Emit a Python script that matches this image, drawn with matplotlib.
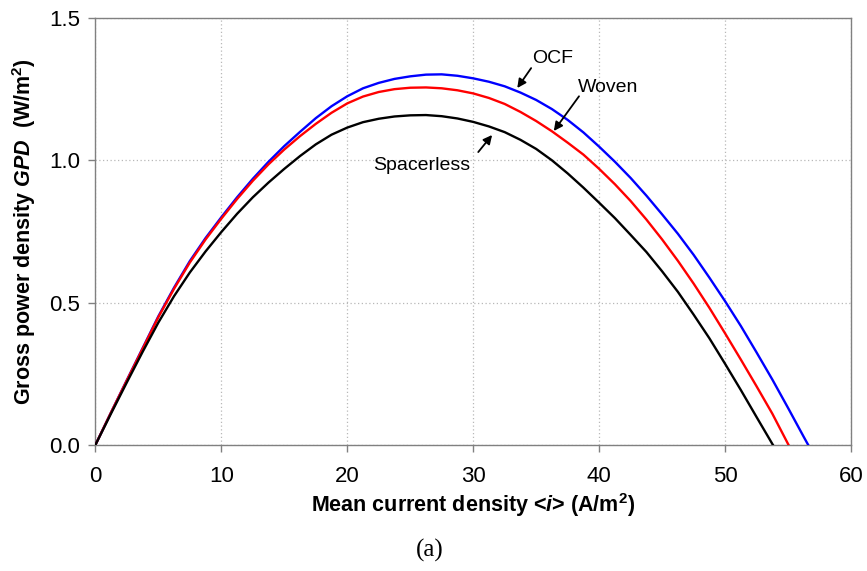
import matplotlib
matplotlib.use("Agg")
import matplotlib.pyplot as plt

plt.rcParams['font.family'] = ['Liberation Sans', 'DejaVu Sans']
plt.rcParams['mathtext.fontset'] = 'custom'
plt.rcParams['mathtext.it'] = 'Liberation Sans:italic:bold'
plt.rcParams['mathtext.rm'] = 'Liberation Sans:bold'
plt.rcParams['mathtext.bf'] = 'Liberation Sans:bold'

# Mean current density <i> (A/m2) sample positions
x_ocf = [0, 1.25, 2.5, 3.75, 5, 6.25, 7.5, 8.75, 10, 11.25, 12.5, 13.75, 15, 16.25,
         17.5, 18.75, 20, 21.25, 22.5, 23.75, 25, 26.25, 27.5, 28.75, 30, 31.25,
         32.5, 33.75, 35, 36.25, 37.5, 38.75, 40, 41.25, 42.5, 43.75, 45, 46.25,
         47.5, 48.75, 50, 51.25, 52.5, 53.75, 55, 56.25, 56.6]
y_ocf = [0, 0.115, 0.228, 0.34, 0.452, 0.553, 0.646, 0.727, 0.80, 0.87, 0.935, 0.995,
         1.05, 1.10, 1.148, 1.19, 1.225, 1.253, 1.272, 1.286, 1.295, 1.301, 1.302,
         1.297, 1.288, 1.276, 1.26, 1.238, 1.212, 1.18, 1.142, 1.098, 1.048, 0.995,
         0.938, 0.876, 0.81, 0.742, 0.668, 0.588, 0.505, 0.418, 0.325, 0.23, 0.13,
         0.028, 0]

x_woven = [0, 1.25, 2.5, 3.75, 5, 6.25, 7.5, 8.75, 10, 11.25, 12.5, 13.75, 15, 16.25,
           17.5, 18.75, 20, 21.25, 22.5, 23.75, 25, 26.25, 27.5, 28.75, 30, 31.25,
           32.5, 33.75, 35, 36.25, 37.5, 38.75, 40, 41.25, 42.5, 43.75, 45, 46.25,
           47.5, 48.75, 50, 51.25, 52.5, 53.75, 55.04]
y_woven = [0, 0.115, 0.227, 0.338, 0.449, 0.549, 0.641, 0.722, 0.795, 0.864, 0.928,
           0.986, 1.038, 1.085, 1.128, 1.167, 1.2, 1.224, 1.24, 1.25, 1.255, 1.256,
           1.253, 1.246, 1.235, 1.219, 1.198, 1.17, 1.138, 1.102, 1.062, 1.02, 0.97,
           0.916, 0.857, 0.792, 0.722, 0.647, 0.567, 0.482, 0.392, 0.3, 0.206, 0.11, 0]

x_spacer = [0, 1.25, 2.5, 3.75, 5, 6.25, 7.5, 8.75, 10, 11.25, 12.5, 13.75, 15, 16.25,
            17.5, 18.75, 20, 21.25, 22.5, 23.75, 25, 26.25, 27.5, 28.75, 30, 31.25,
            32.5, 33.75, 35, 36.25, 37.5, 38.75, 40, 41.25, 42.5, 43.75, 45, 46.25,
            47.5, 48.75, 50, 51.25, 52.5, 53.8]
y_spacer = [0, 0.111, 0.22, 0.327, 0.43, 0.523, 0.606, 0.68, 0.748, 0.812, 0.87, 0.922,
            0.97, 1.015, 1.056, 1.09, 1.115, 1.134, 1.146, 1.154, 1.158, 1.159, 1.155,
            1.147, 1.135, 1.119, 1.099, 1.072, 1.04, 1.0, 0.954, 0.904, 0.851, 0.797,
            0.738, 0.678, 0.61, 0.538, 0.458, 0.375, 0.285, 0.193, 0.098, 0]

xticks = [0, 10, 20, 30, 40, 50, 60]
yticks = [0.0, 0.5, 1.0, 1.5]
ytick_labels = ['0.0', '0.5', '1.0', '1.5']

fig = plt.figure(figsize=(8.67, 5.71), dpi=100)
ax = fig.add_axes([0.110, 0.2207, 0.8716, 0.7478])

ax.plot(x_ocf, y_ocf, color='#0000ff', lw=1.7, zorder=3)
ax.plot(x_woven, y_woven, color='#ff0000', lw=1.7, zorder=3)
ax.plot(x_spacer, y_spacer, color='black', lw=1.7, zorder=3)

ax.set_xlim(0, 60)
ax.set_ylim(0, 1.5)
ax.set_xticks(xticks)
ax.set_yticks(yticks)
ax.set_yticklabels(ytick_labels)
ax.grid(True, color='#b8b8b8', linestyle=(0, (1, 2)), lw=0.9)
ax.set_axisbelow(True)
for s in ax.spines.values():
    s.set_color('#808080')
    s.set_linewidth(1.0)
ax.tick_params(axis='both', direction='out', length=5, width=1.0, color='#808080',
               labelsize=16, labelcolor='black')
ax.tick_params(axis='x', pad=10)
ax.tick_params(axis='y', pad=6)

ax.set_xlabel(r'Mean current density <$i$> (A/m$^2$)', fontsize=15.5, fontweight='bold',
              labelpad=3)
ax.set_ylabel(r'Gross power density $GPD$  (W/m$^2$)', fontsize=15.5, fontweight='bold',
              labelpad=8)

arrow_kw = dict(arrowprops=dict(arrowstyle='-|>', color='black', lw=1.3,
                                mutation_scale=13, shrinkA=0, shrinkB=0))
ax.annotate('', xy=(33.5, 1.254), xytext=(34.6, 1.324), **arrow_kw)
ax.text(36.3, 1.356, 'OCF', fontsize=14, ha='center', va='center')
ax.annotate('', xy=(36.4, 1.103), xytext=(38.4, 1.225), **arrow_kw)
ax.text(40.7, 1.257, 'Woven', fontsize=14, ha='center', va='center')
ax.annotate('', xy=(31.5, 1.089), xytext=(30.4, 1.029), **arrow_kw)
ax.text(25.9, 0.983, 'Spacerless', fontsize=14, ha='center', va='center')

fig.text(430 / 867, 1 - 550 / 571, '(a)', fontsize=18, ha='center', va='center',
         family='Liberation Serif')

fig.savefig('out.png', dpi=100)
